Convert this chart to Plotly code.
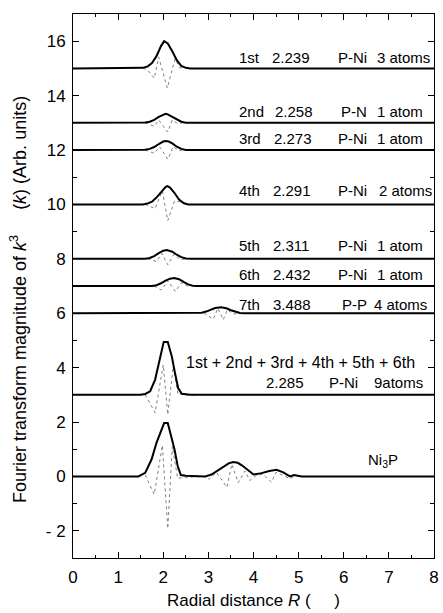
import plotly.graph_objects as go

# ---- data ----
offsets = [15, 13, 12, 10, 8, 7, 6, 3, 0]

mag_x = [
    [1.45, 1.55, 1.65, 1.75, 1.85, 1.95, 2.02, 2.1, 2.2, 2.3, 2.4, 2.5, 2.6],
    [1.5, 1.6, 1.7, 1.8, 1.9, 2.0, 2.05, 2.1, 2.2, 2.3, 2.4, 2.5],
    [1.5, 1.6, 1.7, 1.8, 1.9, 2.0, 2.06, 2.12, 2.2, 2.3, 2.4, 2.5],
    [1.55, 1.65, 1.75, 1.85, 1.95, 2.05, 2.09, 2.15, 2.25, 2.35, 2.45, 2.55],
    [1.6, 1.7, 1.8, 1.9, 2.0, 2.08, 2.2, 2.3, 2.4, 2.5, 2.6],
    [1.75, 1.85, 1.95, 2.05, 2.15, 2.24, 2.35, 2.45, 2.55, 2.65, 2.75],
    [2.75, 2.85, 2.95, 3.05, 3.15, 3.28, 3.4, 3.5, 3.6, 3.7, 3.8],
    [1.5, 1.6, 1.71, 1.82, 1.89, 1.97, 2.01, 2.1, 2.19, 2.26, 2.33, 2.41, 2.5, 2.6],
    [1.45, 1.6, 1.74, 1.85, 1.97, 2.02, 2.1, 2.17, 2.25, 2.32, 2.39, 2.5, 2.65, 2.93,
     3.07, 3.2, 3.3, 3.45, 3.55, 3.65, 3.75, 3.88, 4.0, 4.18, 4.35, 4.51, 4.66, 4.76,
     4.81, 4.9, 4.96, 5.07],
]
mag_y = [
    [0, 0.02, 0.07, 0.2, 0.45, 0.82, 1.0, 0.92, 0.63, 0.3, 0.09, 0.02, 0],
    [0, 0.01, 0.04, 0.11, 0.22, 0.31, 0.33, 0.31, 0.22, 0.11, 0.04, 0],
    [0, 0.01, 0.04, 0.11, 0.22, 0.31, 0.33, 0.31, 0.24, 0.12, 0.04, 0],
    [0, 0.03, 0.1, 0.25, 0.46, 0.64, 0.67, 0.62, 0.42, 0.18, 0.05, 0],
    [0, 0.03, 0.1, 0.21, 0.3, 0.32, 0.26, 0.15, 0.06, 0.01, 0],
    [0, 0.03, 0.1, 0.2, 0.27, 0.29, 0.25, 0.15, 0.06, 0.01, 0],
    [0, 0.02, 0.06, 0.12, 0.19, 0.22, 0.18, 0.11, 0.05, 0.01, 0],
    [0, 0.03, 0.13, 0.56, 1.04, 1.66, 1.94, 1.94, 1.41, 0.8, 0.25, 0.04, 0.01, 0],
    [0, 0.13, 0.62, 1.23, 1.72, 1.96, 1.96, 1.54, 0.99, 0.38, 0.05, 0.02, 0.01, 0,
     0.07, 0.2, 0.32, 0.48, 0.53, 0.5, 0.4, 0.22, 0.07, 0.12, 0.2, 0.24, 0.15, 0.05,
     0, 0.05, 0.04, 0],
]

im_x = [
    [1.55, 1.65, 1.8, 1.9, 2.09, 2.26, 2.36, 2.45],
    [1.6, 1.8, 1.9, 2.1, 2.2, 2.32, 2.42],
    [1.6, 1.8, 1.92, 2.1, 2.22, 2.34, 2.44],
    [1.6, 1.82, 1.98, 2.1, 2.25, 2.37, 2.48],
    [1.65, 1.85, 1.97, 2.1, 2.24, 2.38, 2.5],
    [1.8, 1.96, 2.1, 2.27, 2.4, 2.55],
    [2.9, 3.11, 3.21, 3.33, 3.42, 3.55, 3.7],
    [1.6, 1.82, 2.0, 2.1, 2.22, 2.33, 2.4, 2.55, 2.7],
    [1.6, 1.8, 1.98, 2.1, 2.2, 2.32, 2.45, 2.9, 3.02, 3.18, 3.41, 3.52, 3.66, 3.81,
     3.92, 4.05, 4.2, 4.4, 4.5, 4.66, 4.81, 4.92, 5.05],
]
im_y = [
    [0, -0.05, -0.36, 0.41, -0.72, 0.35, 0.03, 0],
    [0, -0.13, 0.1, -0.34, 0.1, -0.03, 0],
    [0, -0.12, 0.12, -0.34, 0.12, -0.02, 0],
    [0, -0.15, 0.5, -0.6, 0.12, 0.1, 0],
    [0, -0.1, 0.2, -0.22, 0.17, -0.03, 0],
    [0, -0.15, 0.2, -0.2, 0.12, 0],
    [0, -0.22, 0.18, -0.24, 0.13, -0.03, 0],
    [0, -0.66, 1.1, -0.73, 1.04, 0, 0.05, -0.02, 0],
    [0.05, -0.66, 1.14, -1.92, 1.1, -0.07, -0.04, 0, -0.1, 0.15, -0.4, 0.45, -0.23,
     0.2, -0.15, 0.02, 0.08, -0.21, 0.15, 0.02, -0.08, 0.02, 0],
]

shell_names = ["1st", "2nd", "3rd", "4th", "5th", "6th", "7th"]
shell_dist = ["2.239", "2.258", "2.273", "2.291", "2.311", "2.432", "3.488"]
shell_pair = ["P-Ni", "P-N", "P-Ni", "P-Ni", "P-Ni", "P-Ni", "P-P"]
shell_atoms = ["3 atoms", "1 atom", "1 atom", "2 atoms", "1 atom", "1 atom", "4 atoms"]
label_y = [15.39, 13.42, 12.42, 10.5, 8.48, 7.44, 6.33]

sum_line1 = "1st + 2nd + 3rd + 4th + 5th + 6th"
sum_dist, sum_pair, sum_atoms = "2.285", "P-Ni", "9atoms"

x_ticks = [0, 1, 2, 3, 4, 5, 6, 7, 8]
y_ticks = [-2, 0, 2, 4, 6, 8, 10, 12, 14, 16]
y_ticktext = ["- 2", "0", "2", "4", "6", "8", "10", "12", "14", "16"]

FONT = "Arial, Liberation Sans, sans-serif"

fig = go.Figure()

for off, xs, ys in zip(offsets, im_x, im_y):
    fig.add_trace(go.Scatter(x=xs, y=[off + v for v in ys], mode="lines",
                             line=dict(color="#808080", width=1, dash="dot"),
                             showlegend=False, hoverinfo="skip"))

for off, xs, ys in zip(offsets, mag_x, mag_y):
    fig.add_trace(go.Scatter(x=[0] + xs + [8], y=[off] + [off + v for v in ys] + [off],
                             mode="lines", line=dict(color="black", width=2),
                             showlegend=False, hoverinfo="skip"))

# page pixel -> data x (plot area spans page px 73..434 for x 0..8)
PX0, PXS = 73.0, 45.125


def dx(px):
    return (px - PX0) / PXS


atoms_left = [375, 375, 375, 376.5, 375, 375, 371.7]
dist_left = [270, 273, 271.5, 270.5, 271, 271, 271]

ann = []
tf = dict(family=FONT, size=15, color="black")
for i in range(7):
    ann.append(dict(x=dx(237), y=label_y[i], text=shell_names[i], xanchor="left"))
    ann.append(dict(x=dx(dist_left[i]), y=label_y[i], text=shell_dist[i], xanchor="left"))
    ann.append(dict(x=dx(368.5), y=label_y[i], text=shell_pair[i], xanchor="right"))
    ann.append(dict(x=dx(atoms_left[i]), y=label_y[i], text=shell_atoms[i], xanchor="left"))
ann.append(dict(x=dx(417), y=4.17, text=sum_line1, xanchor="right"))
ann.append(dict(x=dx(264), y=3.46, text=sum_dist, xanchor="left"))
ann.append(dict(x=dx(326.7), y=3.46, text=sum_pair, xanchor="left"))
ann.append(dict(x=dx(371.7), y=3.46, text=sum_atoms, xanchor="left"))
ann.append(dict(x=dx(383.3), y=0.59, text="Ni<sub>3</sub>P", xanchor="center"))
for a in ann:
    a.update(xref="x", yref="y", yanchor="middle", showarrow=False, font=tf)
ann[-5]["font"] = dict(family=FONT, size=16, color="black")

ann.append(dict(xref="paper", yref="paper", x=(18 - 73) / 361, y=(558 - 300) / 544,
                text="Fourier transform magnitude of <i>k</i><sup>3</sup>\u00a0\u00a0\u00a0\u00a0\u00a0(<i>k</i>) (Arb. units)",
                textangle=-90, showarrow=False, xanchor="center", yanchor="middle",
                font=dict(family=FONT, size=18, color="black")))
ann.append(dict(xref="paper", yref="paper", x=0.5, y=-(600.5 - 558) / 544,
                text="Radial distance <i>R</i> (\u00a0\u00a0\u00a0\u00a0\u00a0)",
                showarrow=False, xanchor="center", yanchor="middle",
                font=dict(family=FONT, size=17, color="black")))

axis_common = dict(showgrid=False, zeroline=False, showline=True, linecolor="black",
                   linewidth=1, mirror="ticks", ticks="inside", ticklen=6,
                   tickcolor="black", tickwidth=1,
                   tickfont=dict(family=FONT, size=17, color="black"))

fig.update_layout(
    width=443, height=613,
    margin=dict(l=73, r=9, t=14, b=55, autoexpand=False),
    paper_bgcolor="white", plot_bgcolor="white",
    xaxis=dict(range=[0, 8], tickmode="array", tickvals=x_ticks, ticklabelstandoff=4,
               minor=dict(dtick=0.5, tick0=0, ticks="inside", ticklen=3, tickcolor="black"),
               **axis_common),
    yaxis=dict(range=[-3, 17], tickmode="array", tickvals=y_ticks, ticktext=y_ticktext,
               ticklabelstandoff=3,
               minor=dict(dtick=1, tick0=0, ticks="inside", ticklen=4, tickcolor="black"),
               **axis_common),
    annotations=ann,
)

# remove the default 8px body margin so the figure sits at the page origin
fig.write_html("out.html", config={"displayModeBar": False},
               post_script="document.body.style.margin='0';document.body.style.overflow='hidden';")
